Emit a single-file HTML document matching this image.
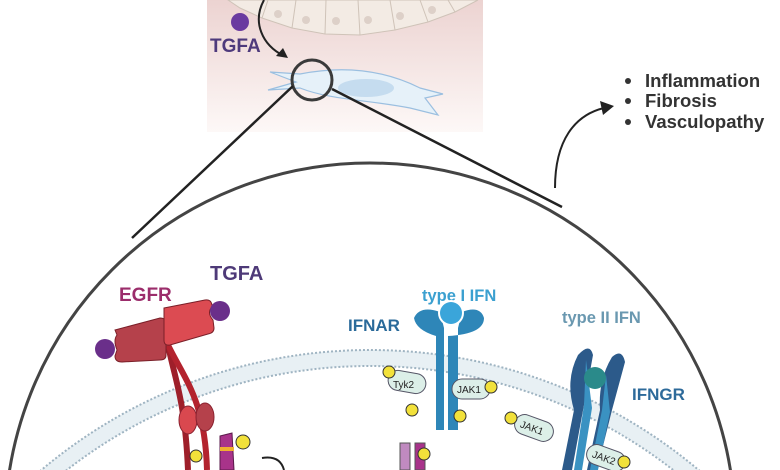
<!DOCTYPE html>
<html><head><meta charset="utf-8"><style>
html,body{margin:0;padding:0;background:#fff;width:780px;height:470px;overflow:hidden;}
svg{display:block;font-family:"Liberation Sans",Arial,sans-serif;font-weight:bold;}
</style></head><body>
<svg width="780" height="470" viewBox="0 0 780 470" xmlns="http://www.w3.org/2000/svg">
<defs>
<linearGradient id="pk" x1="0" y1="0" x2="0" y2="1">
<stop offset="0" stop-color="#ecd3d1"/><stop offset="1" stop-color="#fdf8f7"/>
</linearGradient>
<clipPath id="big"><circle cx="370" cy="528" r="365"/></clipPath>
</defs>
<!-- top panel -->
<rect x="207" y="0" width="276" height="132" fill="url(#pk)"/>
<g fill="#f3ebe4" stroke="#cfc3b8" stroke-width="1">
<path d="M228 0 L240 8 L262 18 L292 28 L325 34 L360 35 L395 30 L428 22 L455 12 L478 0 Z"/>
<path d="M262 18 L268 0 M292 28 L296 0 M325 34 L326 0 M360 35 L358 0 M395 30 L390 0 M428 22 L420 0 M455 12 L448 0" fill="none"/>
</g>
<g fill="#ddd0c8"><circle cx="278" cy="14" r="4"/><circle cx="306" cy="20" r="4"/><circle cx="336" cy="21" r="4"/><circle cx="368" cy="20" r="4"/><circle cx="400" cy="16" r="4"/><circle cx="432" cy="10" r="4"/></g>
<circle cx="240" cy="22" r="9" fill="#6a3aa0"/>
<text x="210" y="52" font-size="19" fill="#4e3a7c">TGFA</text>
<path d="M264 0 C252 22 262 45 284 56" fill="none" stroke="#222" stroke-width="2"/>
<polygon points="288,58 276,56 283,48" fill="#222"/>
<path d="M270 72 L300 74 C340 66 380 68 420 88 L443 94 L425 98 L438 115 L410 108 C370 100 330 100 300 88 L268 90 L296 82 Z" fill="#e6f1f9" stroke="#9bbfe0" stroke-width="1.2"/>
<ellipse cx="366" cy="88" rx="28" ry="9" fill="#c5dcef"/>
<circle cx="312" cy="80" r="20" fill="none" stroke="#3a3a3a" stroke-width="3"/>
<line x1="293" y1="86" x2="132" y2="238" stroke="#222" stroke-width="2.5"/>
<line x1="332" y1="89" x2="562" y2="207" stroke="#222" stroke-width="2.5"/>
<!-- outcome -->
<path d="M555 188 C555 140 575 115 604 108" fill="none" stroke="#222" stroke-width="2"/>
<polygon points="614,106 600,101 603,115" fill="#222"/>
<g font-size="18.5" fill="#333">
<circle cx="628" cy="81" r="3"/><text x="645" y="87">Inflammation</text>
<circle cx="628" cy="101" r="3"/><text x="645" y="107">Fibrosis</text>
<circle cx="628" cy="122" r="3"/><text x="645" y="128">Vasculopathy</text>
</g>
<!-- big circle -->
<circle cx="370" cy="528" r="365" fill="#fff" stroke="#444" stroke-width="3"/>
<g clip-path="url(#big)">
<circle cx="370" cy="860" r="502" fill="none" stroke="#e8f0f4" stroke-width="16"/>
<circle cx="370" cy="860" r="510" fill="none" stroke="#9fb4c2" stroke-width="2" stroke-dasharray="2 2"/>
<circle cx="370" cy="860" r="494" fill="none" stroke="#9fb4c2" stroke-width="2" stroke-dasharray="2 2"/>
</g>
<!-- EGFR -->
<text x="119" y="301" font-size="19" fill="#9b2d6b">EGFR</text>
<text x="210" y="280" font-size="20" fill="#4e3a78">TGFA</text>
<path d="M168 345 C175 380 185 400 188 470" stroke="#9e1f2a" stroke-width="6" fill="none"/>
<path d="M168 345 C185 380 205 400 207 470" stroke="#b3232e" stroke-width="6" fill="none"/>
<path d="M115 330 L160 318 Q166 318 166 324 L166 355 Q166 360 160 360 L122 362 Q115 362 115 356 L117 350 Q113 340 117 335 Z" fill="#b5414b" stroke="#7a1f28"/>
<path d="M164 308 L205 300 Q211 299 212 305 L213 306 Q206 312 213 320 L214 328 Q214 333 208 334 L170 345 Q164 346 164 340 Z" fill="#dc4b52" stroke="#7a1f28"/>
<circle cx="105" cy="349" r="10" fill="#6a2f8a"/>
<circle cx="220" cy="311" r="10" fill="#6a2f8a"/>
<ellipse cx="188" cy="420" rx="9" ry="14" fill="#d9484f" stroke="#8b2230"/>
<ellipse cx="205" cy="417" rx="9" ry="14" fill="#b5414b" stroke="#8b2230"/>
<circle cx="196" cy="456" r="6" fill="#f2e13a" stroke="#333"/>
<path d="M220 436 L232 433 L234 470 L220 470 Z" fill="#a8338a" stroke="#5a1a4a"/>
<rect x="220" y="447" width="14" height="4" fill="#f0b030"/>
<circle cx="243" cy="442" r="7" fill="#f2e13a" stroke="#333"/>
<path d="M262 458 Q280 455 284 470" fill="none" stroke="#222" stroke-width="2"/>
<!-- IFNAR -->
<text x="348" y="331" font-size="17" fill="#2a6a9a">IFNAR</text>
<text x="422" y="301" font-size="16.5" fill="#3ba0d0">type I IFN</text>
<path d="M414 318 Q420 305 440 312 L444 328 L444 430 L436 430 L436 336 Q416 330 414 318 Z" fill="#2e86b8"/>
<path d="M484 318 Q480 305 462 312 L458 328 L458 430 L448 430 L448 336 Q484 334 484 318 Z" fill="#2e86b8"/>
<circle cx="451" cy="313" r="13" fill="#fff"/>
<circle cx="451" cy="313" r="11" fill="#3aa5da"/>
<rect x="388" y="372" width="38" height="20" rx="10" fill="#dcefe8" stroke="#556" transform="rotate(10 407 382)"/>
<text x="393" y="388" font-size="10" font-weight="normal" fill="#222">Tyk2</text>
<circle cx="389" cy="372" r="6" fill="#f2e13a" stroke="#333"/>
<rect x="452" y="379" width="38" height="20" rx="10" fill="#dcefe8" stroke="#556"/>
<text x="457" y="393" font-size="10" font-weight="normal" fill="#222">JAK1</text>
<circle cx="491" cy="387" r="6" fill="#f2e13a" stroke="#333"/>
<circle cx="412" cy="410" r="6" fill="#f2e13a" stroke="#333"/>
<circle cx="460" cy="416" r="6" fill="#f2e13a" stroke="#333"/>
<path d="M400 443 L410 443 L410 470 L400 470 Z" fill="#c08ac0" stroke="#555"/>
<path d="M415 443 L425 443 L425 470 L415 470 Z" fill="#a8338a" stroke="#555"/>
<circle cx="424" cy="454" r="6" fill="#f2e13a" stroke="#333"/>
<!-- IFNGR -->
<text x="562" y="323" font-size="16.5" fill="#6a98b0">type II IFN</text>
<text x="632" y="400" font-size="17" fill="#2d6a9a">IFNGR</text>
<path d="M578 355 Q590 342 593 355 L584 405 L572 470 L562 470 L574 410 Q565 380 578 355 Z" fill="#2c5a8a"/>
<path d="M612 357 Q622 348 625 362 L612 410 L597 470 L587 470 L600 410 Q598 380 612 357 Z" fill="#2c5a8a"/>
<path d="M586 360 L584 405 L574 470 L582 470 L592 408 Z" fill="#3a92c2"/>
<path d="M606 375 L602 410 L590 470 L598 470 L610 412 Z" fill="#3a92c2"/>
<circle cx="595" cy="378" r="11" fill="#2a8a8a"/>
<rect x="514" y="418" width="40" height="20" rx="10" fill="#dcefe8" stroke="#556" transform="rotate(20 534 428)"/>
<text x="520" y="432" font-size="10" font-weight="normal" fill="#222" transform="rotate(20 534 428)">JAK1</text>
<circle cx="511" cy="418" r="6" fill="#f2e13a" stroke="#333"/>
<rect x="586" y="448" width="40" height="20" rx="10" fill="#dcefe8" stroke="#556" transform="rotate(20 606 458)"/>
<text x="592" y="462" font-size="10" font-weight="normal" fill="#222" transform="rotate(20 606 458)">JAK2</text>
<circle cx="624" cy="462" r="6" fill="#f2e13a" stroke="#333"/>
</svg>
</body></html>
